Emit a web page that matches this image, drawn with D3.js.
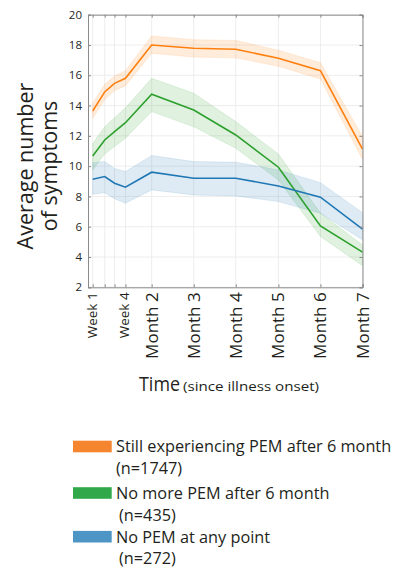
<!DOCTYPE html>
<html><head><meta charset="utf-8">
<script src="https://cdn.jsdelivr.net/npm/d3@7"></script>
<style>body{margin:0;background:#fff;}svg{display:block;}text{font-family:"Open Sans",sans-serif;}</style>
</head><body>
<svg id="c" width="404" height="571"></svg>
<script>
// time points (x positions expressed in weeks since onset)
const tickLabels = ["Week 1","","","Week 4","Month 2","Month 3","Month 4","Month 5","Month 6","Month 7"];
const timePoints = [1, 2.1, 3.0, 4.0, 6.4, 10.25, 14.1, 18.0, 21.85, 25.7];
const yTicks = [2,4,6,8,10,12,14,16,18,20];

const seriesNames = ["Still experiencing PEM after 6 month","No more PEM after 6 month","No PEM at any point"];
const seriesN = ["(n=1747)","(n=435)","(n=272)"];

const orangeMean  = [13.64,14.90,15.47,15.80,18.00,17.78,17.72,17.12,16.30,11.12];
const orangeLower = [13.15,14.40,15.00,15.30,17.45,17.20,17.15,16.60,15.76,10.45];
const orangeUpper = [14.15,15.40,15.95,16.30,18.60,18.35,18.30,17.65,16.83,11.95];

const greenMean  = [10.67,11.73,12.28,12.87,14.75,13.71,12.06,9.93,6.05,4.32];
const greenLower = [9.75,10.80,11.30,11.85,13.60,12.60,11.18,9.09,5.35,3.43];
const greenUpper = [11.50,12.60,13.20,13.85,15.80,14.81,12.94,10.80,6.90,4.80];

const blueMean  = [9.13,9.31,8.87,8.61,9.60,9.20,9.20,8.69,7.95,5.84];
const blueLower = [8.14,8.25,7.85,7.55,8.43,8.10,8.03,7.66,6.89,5.13];
const blueUpper = [10.23,10.30,9.85,9.64,10.70,10.30,10.26,9.75,8.91,6.93];

const lineColors = ["#ff7f0e","#2ca02c","#1f77b4"];
const swatchColors = ["#f5862f","#31a94a","#4d95c5"];

const svg = d3.select("#c");
const L = 88, R = 362.5, T = 14.7, B = 287.3;
const x = d3.scaleLinear().domain([0.57, 25.7]).range([L, R]);
const y = d3.scaleLinear().domain([2, 20]).range([B, T]);

// grid
const g = svg.append("g");
g.selectAll(".vg").data(timePoints).join("line")
  .attr("x1", d=>x(d)).attr("x2", d=>x(d)).attr("y1", T).attr("y2", B)
  .attr("stroke", "#e8e8e8").attr("stroke-width", 0.8);
g.selectAll(".hg").data(yTicks).join("line")
  .attr("x1", L).attr("x2", R).attr("y1", d=>y(d)).attr("y2", d=>y(d))
  .attr("stroke", "#e8e8e8").attr("stroke-width", 0.8);

const series = [
  {mean: orangeMean, lo: orangeLower, hi: orangeUpper},
  {mean: greenMean, lo: greenLower, hi: greenUpper},
  {mean: blueMean, lo: blueLower, hi: blueUpper}
];
const area = d3.area().x((d,i)=>x(timePoints[i])).y0(d=>y(d[0])).y1(d=>y(d[1]));
const line = d3.line().x((d,i)=>x(timePoints[i])).y(d=>y(d));
series.forEach((s,k)=>{
  const band = s.lo.map((v,i)=>[v, s.hi[i]]);
  svg.append("path").attr("d", area(band)).attr("fill", lineColors[k]).attr("fill-opacity", 0.15)
    .attr("stroke", lineColors[k]).attr("stroke-opacity", 0.2).attr("stroke-width", 0.6);
});
series.forEach((s,k)=>{
  svg.append("path").attr("d", line(s.mean)).attr("fill", "none").attr("stroke", lineColors[k]).attr("stroke-width", 1.6);
});

// axes (box with inward ticks)
const axCol = "#8a8a8a";
const yl = d3.axisLeft(y).tickValues(yTicks).tickSize(-3).tickPadding(6);
const yr = d3.axisRight(y).tickValues(yTicks).tickSize(-3).tickFormat("");
const xb = d3.axisBottom(x).tickValues(timePoints).tickSize(-3).tickFormat("");
const xt = d3.axisTop(x).tickValues(timePoints).tickSize(-3).tickFormat("");
const gyl = svg.append("g").attr("transform", `translate(${L},0)`).call(yl);
svg.append("g").attr("transform", `translate(${R},0)`).call(yr);
svg.append("g").attr("transform", `translate(0,${B})`).call(xb);
svg.append("g").attr("transform", `translate(0,${T})`).call(xt);
svg.selectAll(".domain").attr("stroke", axCol).attr("stroke-width", 1);
svg.selectAll(".tick line").attr("stroke", axCol);
gyl.selectAll("text").attr("font-size", 11.5).attr("fill", "#262626").attr("font-family", "Open Sans");

// x tick labels rotated
tickLabels.forEach((t,i)=>{
  if(!t) return;
  const isWeek = t.startsWith("Week");
  svg.append("text")
    .attr("transform", `translate(${x(timePoints[i]) + (isWeek ? 4 : 6)},${B+5}) rotate(-90)`)
    .attr("text-anchor", "end")
    .attr("font-size", isWeek ? 13.5 : 17)
    .attr("fill", "#231f20")
    .text(t);
});

// y title
const yt = svg.append("text").attr("transform", "translate(33,166) rotate(-90)").attr("text-anchor","middle")
  .attr("font-size", 21.5).attr("fill", "#231f20");
yt.append("tspan").attr("x",0).attr("y",0).text("Average number");
yt.append("tspan").attr("x",0).attr("y",24).text("of symptoms");

// x title
svg.append("text").attr("x", 139).attr("y", 391).attr("fill", "#231f20")
  .attr("font-size", 20).attr("textLength", 41).attr("lengthAdjust", "spacingAndGlyphs").text("Time");
svg.append("text").attr("x", 183).attr("y", 391).attr("fill", "#231f20")
  .attr("font-size", 13.5).attr("textLength", 136).attr("lengthAdjust", "spacingAndGlyphs")
  .text("(since illness onset)");

// legend
const legY = [452.3, 498.8, 542.5];
const legNY = [474, 520.5, 564];
const legNX = [116, 119, 119];
seriesNames.forEach((n,k)=>{
  svg.append("rect").attr("x", 73).attr("y", legY[k]-11.6).attr("width", 38.7).attr("height", 11.6).attr("fill", swatchColors[k]);
  svg.append("text").attr("x", 116).attr("y", legY[k]).attr("font-size", 16.3).attr("fill", "#231f20").text(n);
  svg.append("text").attr("x", legNX[k]).attr("y", legNY[k]).attr("font-size", 16.3).attr("fill", "#231f20").text(seriesN[k]);
});
</script>
</body></html>
